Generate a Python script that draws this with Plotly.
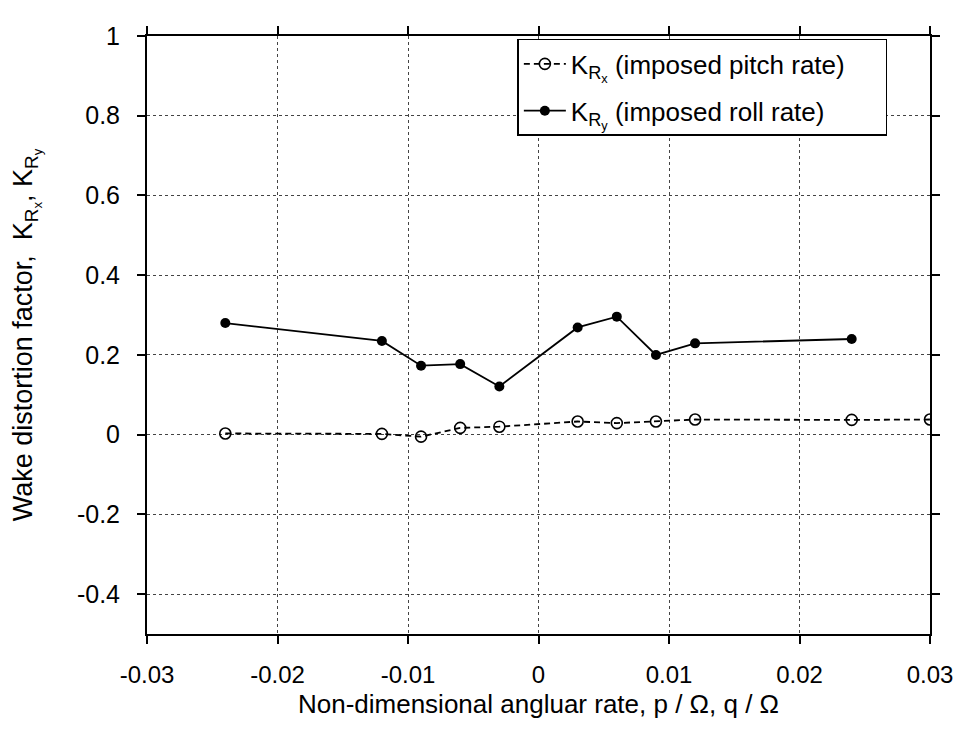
import plotly.graph_objects as go

# Non-dimensional angular rate (p/Omega for pitch runs, q/Omega for roll runs)
rate_pitch = [-0.024, -0.012, -0.009, -0.006, -0.003, 0.003, 0.006, 0.009, 0.012, 0.024, 0.030]
k_rx = [0.003, 0.002, -0.005, 0.017, 0.020, 0.033, 0.029, 0.033, 0.038, 0.037, 0.038]

rate_roll = [-0.024, -0.012, -0.009, -0.006, -0.003, 0.003, 0.006, 0.009, 0.012, 0.024]
k_ry = [0.280, 0.235, 0.173, 0.177, 0.121, 0.269, 0.296, 0.200, 0.229, 0.240]

x_ticks = [-0.03, -0.02, -0.01, 0, 0.01, 0.02, 0.03]
x_tick_text = ["-0.03", "-0.02", "-0.01", "0", "0.01", "0.02", "0.03"]
y_ticks = [-0.4, -0.2, 0, 0.2, 0.4, 0.6, 0.8, 1.0]
y_tick_text = ["-0.4", "-0.2", "0", "0.2", "0.4", "0.6", "0.8", "1"]

SANS = "Liberation Sans, Arial, Helvetica, sans-serif"
PAD = "\u00a0" * 5

fig = go.Figure()

fig.add_trace(go.Scatter(
    x=rate_pitch, y=k_rx, mode="lines+markers",
    name="K<sub>R<sub>x</sub></sub> (imposed pitch rate)" + PAD,
    legendgroup="pitch",
    line=dict(color="black", width=1.8, dash="6px,4px"),
    marker=dict(symbol="circle-open", size=11, color="black", line=dict(width=1.6)),
))

fig.add_trace(go.Scatter(
    x=rate_roll, y=k_ry, mode="lines+markers",
    name="K<sub>R<sub>y</sub></sub> (imposed roll rate)" + PAD,
    legendgroup="roll",
    line=dict(color="black", width=1.8),
    marker=dict(symbol="circle", size=10, color="black"),
))

axis_common = dict(
    showline=True, linewidth=2, linecolor="black", mirror="ticks",
    ticks="outside", ticklen=8, tickwidth=1.5, tickcolor="black",
    showgrid=True, gridcolor="#444", gridwidth=1, griddash="dot",
    zeroline=False, automargin=False,
)

fig.update_xaxes(
    range=[-0.03, 0.03], tickvals=x_ticks, ticktext=x_tick_text,
    tickfont=dict(family=SANS, size=24, color="black"),
    ticklabelstandoff=10,
    title=dict(text="Non-dimensional angluar rate, p / \u03a9, q / \u03a9",
               font=dict(family=SANS, size=26, color="black"), standoff=8),
    **axis_common,
)

fig.update_yaxes(
    range=[-0.5, 1.0], tickvals=y_ticks, ticktext=y_tick_text,
    tickfont=dict(family=SANS, size=25, color="black"),
    ticklabelstandoff=12,
    title=dict(text="Wake distortion factor,  K<sub>R<sub>x</sub></sub>, K<sub>R<sub>y</sub></sub>",
               font=dict(family=SANS, size=27, color="black"), standoff=36),
    **axis_common,
)

fig.update_layout(
    width=960, height=730,
    margin=dict(l=147, r=30, t=36, b=96),
    paper_bgcolor="white", plot_bgcolor="white",
    font=dict(family=SANS, color="black"),
    showlegend=True,
    legend=dict(
        x=0.473, y=0.995, xanchor="left", yanchor="top",
        bgcolor="white", bordercolor="black", borderwidth=1.5,
        font=dict(family=SANS, size=26, color="black"),
        itemwidth=42, tracegroupgap=10,
    ),
)

fig.write_html("out.html")
